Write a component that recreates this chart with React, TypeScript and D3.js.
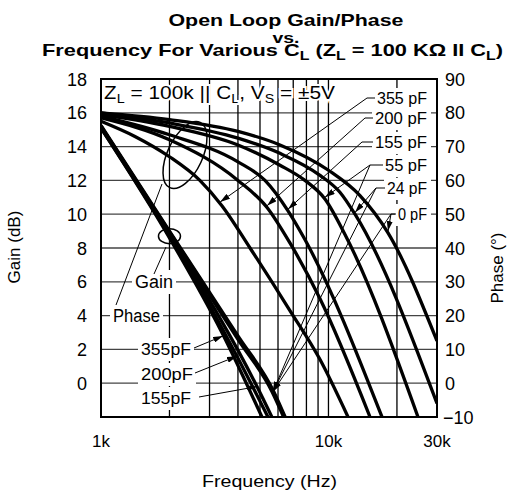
import { useEffect, useRef } from "react"
import * as d3 from "d3"

const width = 513
const height = 492
const plot = { left: 101, right: 437, top: 79, bottom: 417 }
const FONT = "'Liberation Sans', Arial, Helvetica, sans-serif"

// load capacitance, pF
const loads = ["355", "200", "155", "55", "24", "0"]

// open loop gain (dB) against frequency (Hz)
const gainFreq355 = [1000, 2000, 3400, 5100]
const gainDb355 = [15.1, 8.6, 3.0, -2.0]
const gainFreq200 = [1000, 2000, 3960, 5420]
const gainDb200 = [15.1, 8.7, 1.6, -2.0]
const gainFreq155 = [1000, 2000, 4850, 5640]
const gainDb155 = [15.2, 8.8, -0.2, -2.0]
const gainFreq55 = [1000, 2000, 4000, 5650, 6350]
const gainDb55 = [15.2, 8.9, 2.6, -0.5, -2.0]
const gainFreq24 = [1000, 2000, 4000, 5700, 6400]
const gainDb24 = [15.2, 8.95, 2.7, -0.5, -2.0]
const gainFreq0 = [1000, 2000, 4000, 5750, 6450]
const gainDb0 = [15.25, 9.0, 2.8, -0.5, -2.0]

// phase (deg) against frequency (Hz)
const phaseFreq355 = [1000, 1410, 2000, 2720, 3400, 4520, 6770, 9180, 12190]
const phaseDeg355 = [77.5, 73, 67, 60, 52.5, 40, 21.5, 7, -10]
const phaseFreq200 = [1000, 2000, 4000, 5370, 6770, 9180, 15230]
const phaseDeg200 = [78.5, 72, 60, 52, 41.5, 25, -10]
const phaseFreq155 = [1000, 2000, 4000, 5260, 6640, 7880, 17190]
const phaseDeg155 = [79, 73.5, 65.5, 60, 51, 42.5, -10]
const phaseFreq55 = [1000, 2000, 4000, 6120, 7880, 9650, 11820, 24750]
const phaseDeg55 = [79.5, 76, 70.5, 64.5, 60, 54.5, 44, -10]
const phaseFreq24 = [1000, 2000, 4000, 6120, 9180, 11230, 13080, 30000]
const phaseDeg24 = [80, 77, 72.5, 68, 61.5, 56.5, 50, -6]
const phaseFreq0 = [1000, 2000, 4000, 6120, 10000, 13760, 18270, 30000]
const phaseDeg0 = [80, 78, 74.5, 70.5, 63, 55.5, 44.5, 12.5]

const gainTicks = [0, 2, 4, 6, 8, 10, 12, 14, 16, 18]
const phaseTicks = [-10, 0, 10, 20, 30, 40, 50, 60, 70, 80, 90]
const freqGrid = [2000, 3000, 4000, 5000, 6000, 7000, 8000, 9000, 10000, 20000]
const freqTicks = [1000, 10000, 30000]
const freqTickLabels = ["1k", "10k", "30k"]

// where the label leaders point, in chart units
const phaseArrowFreq = [3340, 5370, 6640, 9650, 13080, 18270]
const phaseArrowDeg = [53.6, 52.5, 51.5, 55, 50.5, 45]
const gainArrowFreq = [3440, 3960, 4850, 5700, 5700, 5700]
const gainArrowDb = [2.8, 1.6, -0.2, -0.5, -0.5, -0.5]

// label boxes (pixels)
const rightLabels = [
  { left: 377, base: 104, w: 50, from: 375, to: 367, cy: 98 },
  { left: 375, base: 124, w: 52, from: 373, to: 365, cy: 118 },
  { left: 375, base: 148, w: 52, from: 373, to: 362, cy: 142 },
  { left: 385, base: 171, w: 42, from: 383, to: 370, cy: 165 },
  { left: 387, base: 194, w: 40, from: 385, to: 376, cy: 188 },
  { left: 398, base: 220, w: 29, from: 396, to: 391, cy: 214 },
]
const leftLabels = [
  { left: 141, base: 355, w: 50, sx: 194, sy: 348 },
  { left: 141, base: 380, w: 52, sx: 195, sy: 373 },
  { left: 141, base: 404, w: 50, sx: 199, sy: 397 },
]

export default function App() {
  const svgRef = useRef<SVGSVGElement>(null)

  useEffect(() => {
    if (!svgRef.current) return
    const svg = d3.select(svgRef.current)
    svg.selectAll("*").remove()

    const x = d3.scaleLog().domain([1000, 30000]).range([plot.left, plot.right])
    const yGain = d3.scaleLinear().domain([-2, 18]).range([plot.bottom, plot.top])
    const yPhase = d3.scaleLinear().domain([-10, 90]).range([plot.bottom, plot.top])

    const defs = svg.append("defs")
    defs
      .append("clipPath")
      .attr("id", "plot-clip")
      .append("rect")
      .attr("x", plot.left)
      .attr("y", plot.top)
      .attr("width", plot.right - plot.left)
      .attr("height", plot.bottom - plot.top)
    defs
      .append("marker")
      .attr("id", "arrow")
      .attr("viewBox", "0 0 10 6")
      .attr("refX", 10)
      .attr("refY", 3)
      .attr("markerWidth", 10)
      .attr("markerHeight", 6)
      .attr("markerUnits", "userSpaceOnUse")
      .attr("orient", "auto")
      .append("path")
      .attr("d", "M0,0 L10,3 L0,6 Z")
      .attr("fill", "#000")

    // grid
    svg
      .append("g")
      .selectAll("line")
      .data(gainTicks.slice(0, -1))
      .enter()
      .append("line")
      .attr("x1", plot.left)
      .attr("x2", plot.right)
      .attr("y1", (d) => yGain(d))
      .attr("y2", (d) => yGain(d))
      .attr("stroke", "#444")
      .attr("stroke-width", 1.3)
    svg
      .append("g")
      .selectAll("line")
      .data(freqGrid)
      .enter()
      .append("line")
      .attr("x1", (d) => x(d))
      .attr("x2", (d) => x(d))
      .attr("y1", plot.top)
      .attr("y2", plot.bottom)
      .attr("stroke", "#000")
      .attr("stroke-width", 1.3)

    svg
      .append("rect")
      .attr("x", plot.left)
      .attr("y", plot.top)
      .attr("width", plot.right - plot.left)
      .attr("height", plot.bottom - plot.top)
      .attr("fill", "none")
      .attr("stroke", "#000")
      .attr("stroke-width", 2)

    // curves
    const gainSeries = [
      [gainFreq355, gainDb355],
      [gainFreq200, gainDb200],
      [gainFreq155, gainDb155],
      [gainFreq55, gainDb55],
      [gainFreq24, gainDb24],
      [gainFreq0, gainDb0],
    ].map(([f, v]) => f.map((d, i) => [x(d), yGain(v[i])] as [number, number]))
    const phaseSeries = [
      [phaseFreq355, phaseDeg355],
      [phaseFreq200, phaseDeg200],
      [phaseFreq155, phaseDeg155],
      [phaseFreq55, phaseDeg55],
      [phaseFreq24, phaseDeg24],
      [phaseFreq0, phaseDeg0],
    ].map(([f, v]) => f.map((d, i) => [x(d), yPhase(v[i])] as [number, number]))

    const line = d3.line<[number, number]>().curve(d3.curveMonotoneX)
    const curves = svg.append("g").attr("clip-path", "url(#plot-clip)")
    curves
      .selectAll("path")
      .data([...gainSeries, ...phaseSeries])
      .enter()
      .append("path")
      .attr("d", (d) => line(d))
      .attr("fill", "none")
      .attr("stroke", "#000")
      .attr("stroke-width", 3.3)
      .attr("stroke-linejoin", "round")

    // ellipses grouping gain / phase curves
    svg
      .append("ellipse")
      .attr("cx", x(2000))
      .attr("cy", yGain(8.7))
      .attr("rx", 11)
      .attr("ry", 7.5)
      .attr("fill", "none")
      .attr("stroke", "#000")
      .attr("stroke-width", 1.5)
    svg
      .append("ellipse")
      .attr("transform", `translate(${x(2340)},${yPhase(67.5)}) rotate(25)`)
      .attr("rx", 17.5)
      .attr("ry", 36)
      .attr("fill", "none")
      .attr("stroke", "#000")
      .attr("stroke-width", 1.5)

    // labels with white background
    const boxLabel = (text: string, left: number, base: number, w: number, size: number) => {
      const g = svg.append("g")
      const bg = g.append("rect").attr("fill", "#fff")
      const t = g
        .append("text")
        .attr("x", left)
        .attr("y", base)
        .attr("font-family", FONT)
        .attr("font-size", size)
        .attr("textLength", w)
        .attr("lengthAdjust", "spacingAndGlyphs")
        .text(text)
      const b = (t.node() as SVGTextElement).getBBox()
      bg.attr("x", b.x - 3)
        .attr("y", b.y - 2)
        .attr("width", b.width + 6)
        .attr("height", b.height + 4)
    }

    rightLabels.forEach((p, i) => {
      svg
        .append("rect")
        .attr("x", p.left - 3)
        .attr("y", p.base - 16)
        .attr("width", 431 - (p.left - 3))
        .attr("height", 22)
        .attr("fill", "#fff")
      boxLabel(`${loads[i]} pF`, p.left, p.base, p.w, 16)
    })
    leftLabels.forEach((p, i) => boxLabel(`${loads[i]}pF`, p.left, p.base, p.w, 17))
    boxLabel("Gain", 135, 288, 38, 18)
    boxLabel("Phase", 113, 322, 47, 18)

    // leaders
    const leader = (pts: [number, number][]) =>
      svg
        .append("path")
        .attr("d", d3.line()(pts))
        .attr("fill", "none")
        .attr("stroke", "#000")
        .attr("stroke-width", 1)
        .attr("marker-end", "url(#arrow)")

    rightLabels.forEach((p, i) => {
      const tip: [number, number] = [x(phaseArrowFreq[i]), yPhase(phaseArrowDeg[i])]
      leader([[p.from, p.cy], [p.to, p.cy], tip])
      if (i >= 3) {
        leader([[p.to, p.cy], [x(gainArrowFreq[i]), yGain(gainArrowDb[i])]])
      }
    })
    leftLabels.forEach((p, i) => {
      leader([[p.sx, p.sy], [x(gainArrowFreq[i]), yGain(gainArrowDb[i])]])
    })
    svg
      .append("path")
      .attr("d", d3.line()([[154, 274], [166, 247]]))
      .attr("stroke", "#000")
      .attr("stroke-width", 1)
    svg
      .append("path")
      .attr("d", d3.line()([[116, 305], [162, 184]]))
      .attr("stroke", "#000")
      .attr("stroke-width", 1)

    // condition note at top of plot
    const note = svg
      .append("text")
      .attr("x", 104)
      .attr("y", 99)
      .attr("font-family", FONT)
      .attr("font-size", 19)
      .attr("textLength", 231)
      .attr("lengthAdjust", "spacingAndGlyphs")
      .attr("stroke", "#fff")
      .attr("stroke-width", 4)
      .attr("paint-order", "stroke")
      .attr("fill", "#000")
    const parts: [string, boolean][] = [
      ["Z", false],
      ["L", true],
      [" = 100k || C", false],
      ["L", true],
      [", V", false],
      ["S", true],
      [" = \u00b15V", false],
    ]
    parts.forEach(([s, sub], i) => {
      const prevSub = i > 0 && parts[i - 1][1]
      note
        .append("tspan")
        .attr("dy", sub ? 4 : prevSub ? -4 : 0)
        .attr("font-size", sub ? 13 : 19)
        .text(s)
    })

    // tick labels
    const tickText = (s: string, tx: number, ty: number, size: number, anchor: string) =>
      svg
        .append("text")
        .attr("x", tx)
        .attr("y", ty)
        .attr("font-family", FONT)
        .attr("font-size", size)
        .attr("text-anchor", anchor)
        .text(s)

    gainTicks.forEach((d) => tickText(String(d), 87, yGain(d) + 6.5, 18, "end"))
    phaseTicks.forEach((d) =>
      tickText(d < 0 ? `\u2212${Math.abs(d)}` : String(d), d < 0 ? 443 : 445, yPhase(d) + 6.5, 18, "start"),
    )
    freqTicks.forEach((d, i) => tickText(freqTickLabels[i], x(d), 447, 17, "middle"))

    // axis titles
    tickText("Frequency (Hz)", 269.5, 487, 17, "middle").attr("textLength", 135).attr("lengthAdjust", "spacingAndGlyphs")
    svg
      .append("text")
      .attr("transform", "translate(20,247) rotate(-90)")
      .attr("font-family", FONT)
      .attr("font-size", 17)
      .attr("text-anchor", "middle")
      .text("Gain (dB)")
    svg
      .append("text")
      .attr("transform", "translate(503,268) rotate(-90)")
      .attr("font-family", FONT)
      .attr("font-size", 17)
      .attr("text-anchor", "middle")
      .text("Phase (\u00b0)")

    // three-line title
    const titleLine = (tx: number, ty: number, w: number, size: number) =>
      svg
        .append("text")
        .attr("x", tx)
        .attr("y", ty)
        .attr("font-family", FONT)
        .attr("font-weight", "bold")
        .attr("font-size", size)
        .attr("text-anchor", "middle")
        .attr("textLength", w)
        .attr("lengthAdjust", "spacingAndGlyphs")
    titleLine(286, 26, 235, 16.5).text("Open Loop Gain/Phase")
    titleLine(286, 42.5, 27, 15.5).text("vs.")
    const t3 = titleLine(272.5, 56, 461, 16.5)
    const tparts: [string, boolean][] = [
      ["Frequency For Various C", false],
      ["L", true],
      [" (Z", false],
      ["L", true],
      [" = 100 K\u03a9 II C", false],
      ["L", true],
      [")", false],
    ]
    tparts.forEach(([s, sub], i) => {
      const prevSub = i > 0 && tparts[i - 1][1]
      t3.append("tspan")
        .attr("dy", sub ? 4 : prevSub ? -4 : 0)
        .attr("font-size", sub ? 12 : 16.5)
        .text(s)
    })
  }, [])

  return (
    <div style={{ position: "absolute", left: 0, top: 0 }}>
      <svg ref={svgRef} width={width} height={height} style={{ display: "block", background: "#fff" }} />
    </div>
  )
}
